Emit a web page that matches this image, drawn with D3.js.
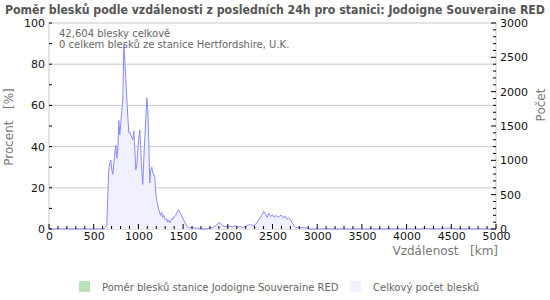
<!DOCTYPE html>
<html>
<head>
<meta charset="utf-8">
<script src="https://cdn.jsdelivr.net/npm/d3@7"></script>
<style>
body { margin: 0; background: #fff; }
text { font-family: "DejaVu Sans", sans-serif; }
</style>
</head>
<body>
<div id="chart-area"></div>
<script>
// distance bins [km] and total lightning counts
var distances = [0, 600, 614, 636, 647, 658, 670, 681, 692, 703, 714, 725, 737, 748, 759, 770, 781, 792, 804, 815, 826, 837, 848, 859, 871, 882, 893, 904, 915, 926, 938, 949, 960, 971, 982, 993, 1004, 1016, 1027, 1038, 1049, 1060, 1071, 1083, 1094, 1105, 1116, 1127, 1138, 1150, 1161, 1172, 1183, 1194, 1205, 1216, 1228, 1239, 1250, 1261, 1272, 1283, 1295, 1306, 1317, 1328, 1340, 1350, 1362, 1373, 1384, 1395, 1406, 1418, 1429, 1440, 1451, 1462, 1473, 1484, 1495, 1506, 1518, 1529, 1540, 1551, 1562, 1580, 1600, 1620, 1640, 1660, 1680, 1700, 1780, 1800, 1830, 1860, 1880, 1900, 1920, 1940, 1960, 1990, 2020, 2050, 2080, 2110, 2140, 2170, 2200, 2230, 2260, 2290, 2320, 2340, 2360, 2380, 2400, 2420, 2440, 2460, 2480, 2500, 2520, 2540, 2560, 2580, 2600, 2620, 2640, 2660, 2680, 2700, 2720, 2740, 2760, 2780, 2800, 2830, 2860, 2880, 2900, 2920, 4170, 4180, 4240, 4250, 4380, 4400, 4480, 4520, 4550, 5000]
var totalCounts = [0, 0, 0, 30, 45, 490, 890, 960, 1000, 860, 800, 960, 1120, 1220, 1030, 1150, 1580, 1370, 1560, 1730, 1890, 2680, 2460, 2180, 1890, 1630, 1400, 1410, 1370, 1340, 1300, 1430, 1150, 860, 930, 1150, 1320, 1440, 1150, 860, 650, 1000, 1300, 1600, 1910, 1730, 1300, 670, 860, 900, 820, 780, 780, 520, 420, 350, 280, 230, 200, 240, 170, 200, 150, 130, 150, 100, 130, 90, 120, 150, 140, 180, 180, 200, 240, 260, 280, 240, 220, 190, 160, 130, 100, 70, 40, 30, 15, 20, 15, 20, 10, 15, 5, 0, 0, 15, 20, 40, 70, 90, 80, 50, 40, 30, 40, 30, 50, 30, 35, 20, 40, 60, 60, 50, 80, 120, 160, 200, 260, 220, 170, 230, 180, 210, 170, 200, 170, 190, 200, 160, 190, 140, 160, 140, 90, 50, 20, 25, 10, 20, 15, 20, 5, 0, 0, 10, 10, 0, 0, 10, 15, 10, 0, 0]

var xTicks = [0, 500, 1000, 1500, 2000, 2500, 3000, 3500, 4000, 4500, 5000]
var leftTicks = [0, 20, 40, 60, 80, 100]
var rightTicks = [0, 500, 1000, 1500, 2000, 2500, 3000]

var title = "Poměr blesků podle vzdálenosti z posledních 24h pro stanici: Jodoigne Souveraine RED"
var note1 = "42,604 blesky celkově"
var note2 = "0 celkem blesků ze stanice Hertfordshire, U.K."
var legendNames = ["Poměr blesků stanice Jodoigne Souveraine RED", "Celkový počet blesků"]

var cw = 550, ch = 300
var m = {l: 49, t: 23, r: 54, b: 71}
var w = cw - m.l - m.r
var h = ch - m.t - m.b

var svg = d3.select("#chart-area").append("svg")
    .attr("width", cw)
    .attr("height", ch)

svg.append("text")
    .attr("x", 275)
    .attr("y", 14)
    .attr("text-anchor", "middle")
    .attr("font-size", "11.5px")
    .attr("font-weight", "bold")
    .attr("fill", "#555")
    .attr("textLength", 540)
    .attr("lengthAdjust", "spacingAndGlyphs")
    .text(title)

var g = svg.append("g")
    .attr("transform", "translate(" + m.l + ", " + m.t + ")")

var x = d3.scaleLinear().domain([0, 5000]).range([0, w])
var yL = d3.scaleLinear().domain([0, 100]).range([h, 0])
var yR = d3.scaleLinear().domain([0, 3000]).range([h, 0])

// grid
g.selectAll(".grid")
    .data(leftTicks.filter(d => d > 0 && d < 100)).enter().append("line")
    .attr("x1", 0).attr("x2", w)
    .attr("y1", d => yL(d)).attr("y2", d => yL(d))
    .attr("stroke", "#c8c8c8")

// frame
g.append("rect")
    .attr("width", w).attr("height", h)
    .attr("fill", "none")
    .attr("stroke", "#c8c8c8")

// total counts area
var area = d3.area()
    .x((d, i) => x(distances[i]))
    .y0(h)
    .y1(d => yR(d))
var line = d3.line()
    .x((d, i) => x(distances[i]))
    .y(d => yR(d))

g.append("path")
    .datum(totalCounts)
    .attr("d", area)
    .attr("fill", "#f0f0ff")
g.append("path")
    .datum(totalCounts)
    .attr("d", line)
    .attr("fill", "none")
    .attr("stroke", "#8a8aff")
    .attr("stroke-width", 1)

// minor ticks
var minorL = d3.range(0, 101, 10)
g.selectAll(".mtl").data(minorL).enter().append("line")
    .attr("x1", 0).attr("x2", 3)
    .attr("y1", d => yL(d)).attr("y2", d => yL(d))
    .attr("stroke", "#000")
var minorR = d3.range(0, 3001, 100)
g.selectAll(".mtr").data(minorR).enter().append("line")
    .attr("x1", w).attr("x2", d => d % 500 == 0 ? w - 5 : w - 3)
    .attr("y1", d => yR(d)).attr("y2", d => yR(d))
    .attr("stroke", "#000")
var minorX = d3.range(0, 5001, 100)
g.selectAll(".mtx").data(minorX).enter().append("line")
    .attr("x1", d => x(d)).attr("x2", d => x(d))
    .attr("y1", h).attr("y2", d => d % 500 == 0 ? h - 5 : h - 3)
    .attr("stroke", "#000")

// axes labels
var fmt = d3.format("d")
var leftAxis = d3.axisLeft(yL).tickValues(leftTicks).tickFormat(fmt).tickSize(0).tickPadding(4)
var rightAxis = d3.axisRight(yR).tickValues(rightTicks).tickFormat(fmt).tickSize(0).tickPadding(4)
var bottomAxis = d3.axisBottom(x).tickValues(xTicks).tickFormat(fmt).tickSize(0).tickPadding(3)

g.append("g").attr("class", "left axis").call(leftAxis)
g.append("g").attr("class", "right axis").attr("transform", "translate(" + w + ",0)").call(rightAxis)
g.append("g").attr("class", "bottom axis").attr("transform", "translate(0," + h + ")").call(bottomAxis)

svg.selectAll(".axis .domain").remove()
svg.selectAll(".axis text")
    .attr("font-family", "DejaVu Sans")
    .attr("font-size", "11px")
    .attr("fill", "#111")

svg.append("text")
    .attr("transform", "translate(13, 127) rotate(-90)")
    .attr("text-anchor", "middle")
    .attr("font-size", "12px")
    .attr("fill", "#777")
    .attr("xml:space", "preserve")
    .text("Procent   [%]")

svg.append("text")
    .attr("transform", "translate(545, 105) rotate(-90)")
    .attr("text-anchor", "middle")
    .attr("font-size", "12px")
    .attr("fill", "#777")
    .text("Počet")

svg.append("text")
    .attr("x", 498)
    .attr("y", 255)
    .attr("text-anchor", "end")
    .attr("font-size", "12px")
    .attr("fill", "#777")
    .attr("xml:space", "preserve")
    .text("Vzdálenost   [km]")

// notes
svg.append("text").attr("x", 59).attr("y", 37)
    .attr("font-size", "10px").attr("fill", "#666").text(note1)
svg.append("text").attr("x", 59).attr("y", 48)
    .attr("font-size", "10px").attr("fill", "#666").text(note2)

// legend
var legendColors = ["#b8e2b8", "#f0f0ff"]
var legendX = [79, 350]
legendNames.forEach((name, i) => {
    svg.append("rect")
        .attr("x", legendX[i]).attr("y", 281)
        .attr("width", 11).attr("height", 11)
        .attr("fill", legendColors[i])
    svg.append("text")
        .attr("x", legendX[i] + 23).attr("y", 291)
        .attr("font-size", "10px").attr("fill", "#666")
        .text(name)
})
</script>
</body>
</html>
